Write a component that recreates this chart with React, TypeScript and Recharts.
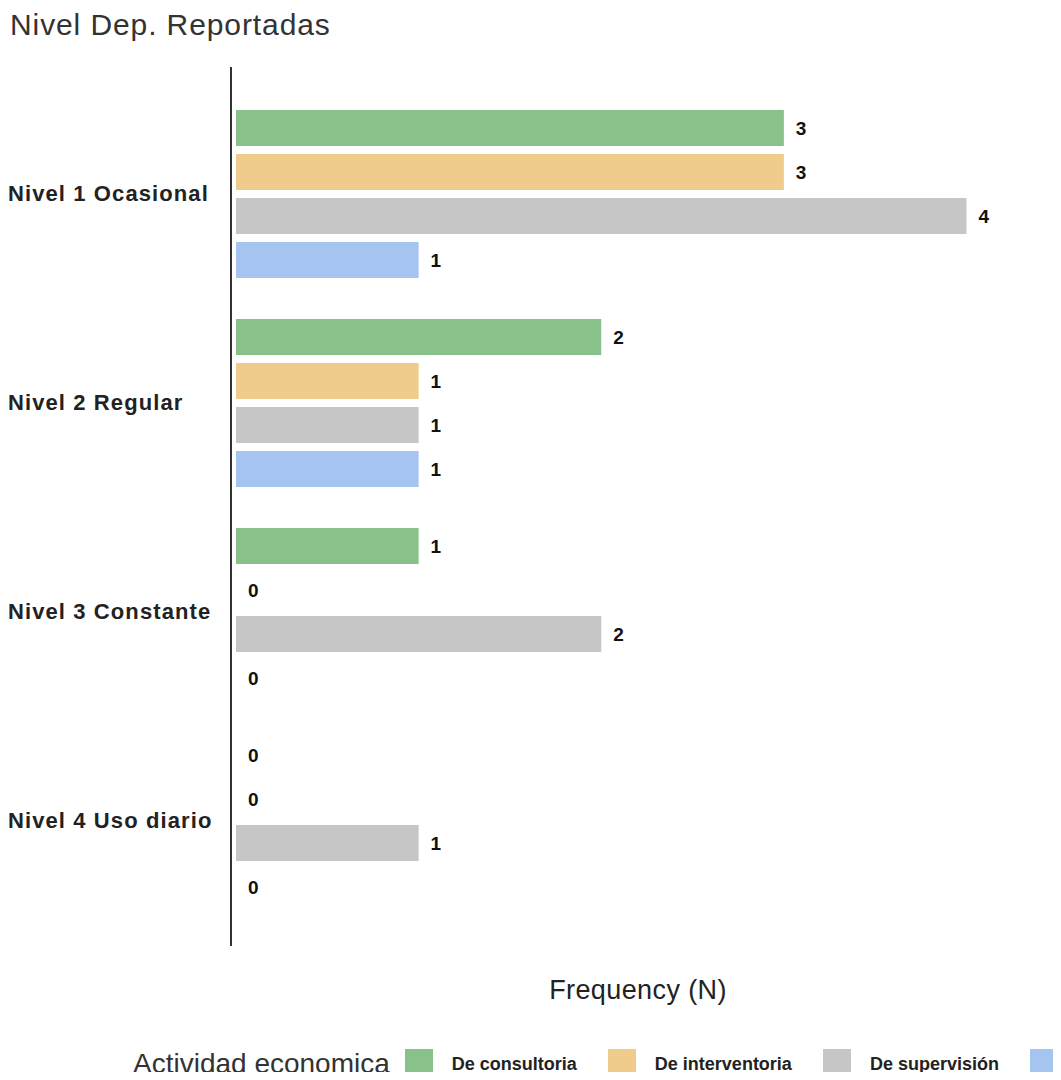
import React from 'react';
import { BarChart, Bar, XAxis, YAxis, LabelList } from 'recharts';

const categories = ['Nivel 1 Ocasional', 'Nivel 2 Regular', 'Nivel 3 Constante', 'Nivel 4 Uso diario'];
const consultoria = [3, 2, 1, 0];
const interventoria = [3, 1, 0, 0];
const supervision = [4, 1, 2, 1];
const diseno = [1, 1, 0, 0];

const seriesNames = ['De consultoria', 'De interventoria', 'De supervisión', 'De diseño'];
const seriesColors = ['#88c28a', '#efcb8c', '#c6c6c6', '#a6c4f0'];
const seriesValues = [consultoria, interventoria, supervision, diseno];

const FONT = '"Liberation Sans", Arial, sans-serif';

// filas para el grafico horizontal
const chartData = categories.map((name, i) => {
  const row: Record<string, any> = { name };
  seriesValues.forEach((vals, s) => {
    row['s' + s] = vals[i];
  });
  return row;
});

const CategoryTick = ({ y, payload }: any) => (
  <text
    x={8}
    y={y}
    dy={7}
    textAnchor="start"
    fill="#222"
    fontFamily={FONT}
    fontSize={22}
    fontWeight="bold"
    letterSpacing={1.1}
  >
    {payload.value}
  </text>
);

// no dibuja la barra cuando el valor es 0 (solo queda la etiqueta)
const BarShape = (props: any) => {
  const { x, y, width, height, fill, value } = props;
  const v = Array.isArray(value) ? value[1] - value[0] : value;
  if (!v) return null;
  return <rect x={x} y={y} width={width} height={height} fill={fill} />;
};

const App = () => {
  return (
    <div style={{ position: 'relative', margin: -8, width: 1061, height: 1080, overflow: 'hidden', background: '#fff' }}>
      <div
        style={{
          position: 'absolute',
          left: 10,
          top: 10,
          fontFamily: FONT,
          fontSize: 30,
          lineHeight: '30px',
          letterSpacing: 0.9,
          color: '#333',
          whiteSpace: 'nowrap',
        }}
      >
        Nivel Dep. Reportadas
      </div>

      <BarChart
        width={1061}
        height={1080}
        data={chartData}
        layout="vertical"
        margin={{ top: 67, right: 16, bottom: 80, left: 0 }}
        barSize={36}
        barGap={8}
      >
        <XAxis
          type="number"
          domain={[0, 4.43]}
          tick={false}
          axisLine={false}
          tickLine={false}
          height={54}
          padding={{ left: 5, right: 0 }}
          label={{ value: 'Frequency (N)', position: 'center', dy: 16, fill: '#222', fontSize: 27, fontFamily: FONT, letterSpacing: 0.4 }}
        />
        <YAxis
          type="category"
          dataKey="name"
          width={231}
          axisLine={{ stroke: '#333', strokeWidth: 2 }}
          tickLine={false}
          tick={<CategoryTick />}
          padding={{ top: 22, bottom: 21 }}
        />
        {seriesNames.map((n, s) => (
          <Bar
            key={n}
            dataKey={'s' + s}
            name={n}
            fill={seriesColors[s]}
            minPointSize={0.01}
            shape={<BarShape />}
            isAnimationActive={false}
          >
            <LabelList
              dataKey={'s' + s}
              position="right"
              offset={12}
              fill="#111"
              fontSize={19}
              fontWeight="bold"
              fontFamily={FONT}
            />
          </Bar>
        ))}
      </BarChart>

      <div
        style={{
          position: 'absolute',
          left: 133,
          top: 1049,
          height: 30,
          display: 'flex',
          alignItems: 'center',
          whiteSpace: 'nowrap',
          fontFamily: FONT,
        }}
      >
        <span style={{ fontSize: 28, color: '#333', marginRight: 15 }}>Actividad economica</span>
        {seriesNames.map((n, s) => (
          <span key={n} style={{ display: 'flex', alignItems: 'center', marginRight: 31 }}>
            <span style={{ width: 28, height: 30, background: seriesColors[s], marginRight: 19 }} />
            <span style={{ fontSize: 18, fontWeight: 'bold', color: '#222' }}>{n}</span>
          </span>
        ))}
      </div>
    </div>
  );
};

export default App;
